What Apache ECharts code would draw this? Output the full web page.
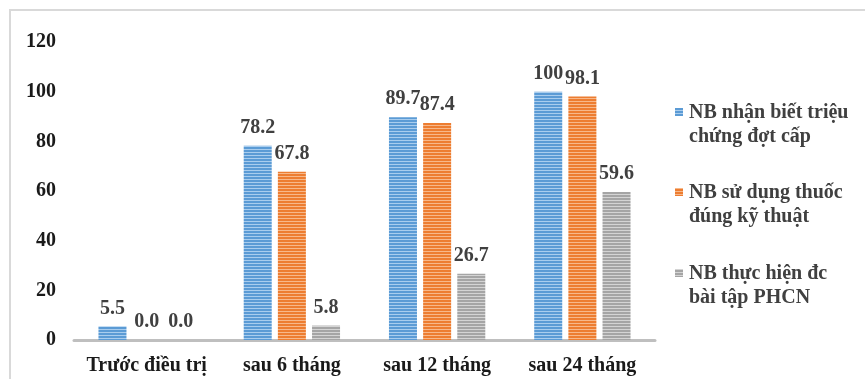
<!DOCTYPE html>
<html>
<head>
<meta charset="utf-8">
<script src="https://cdn.jsdelivr.net/npm/echarts@6/dist/echarts.min.js"></script>
<style>
  html, body { margin: 0; padding: 0; background: #fff; }
  #chart { width: 865px; height: 379px; }
</style>
</head>
<body>
<div id="chart"></div>
<script>
// Time points of the follow-up
const categories = ['Trước điều trị', 'sau 6 tháng', 'sau 12 tháng', 'sau 24 tháng'];

// Percentages per indicator
const recognizeSymptoms = [5.5, 78.2, 89.7, 100];
const correctInhaler = [0.0, 67.8, 87.4, 98.1];
const rehabExercise = [0.0, 5.8, 26.7, 59.6];

const seriesNames = [
  'NB nhận biết triệu\nchứng đợt cấp',
  'NB sử dụng thuốc\nđúng kỹ thuật',
  'NB thực hiện đc\nbài tập PHCN'
];

const yTicks = { min: 0, max: 120, interval: 20 };

// Horizontal-striped fill for the bars
function stripes(base, light) {
  const c = document.createElement('canvas');
  c.width = 4; c.height = 3;
  const g = c.getContext('2d');
  g.fillStyle = base; g.fillRect(0, 0, 4, 3);
  g.fillStyle = light; g.fillRect(0, 2, 4, 1);
  return { image: c, repeat: 'repeat' };
}

const fills = [
  stripes('#5b9bd5', '#a9cdee'),
  stripes('#ed7d31', '#f7b88a'),
  stripes('#a5a5a5', '#d4d4d4')
];

const serif = '"Liberation Serif", "Times New Roman", serif';
const FS = 20;

function fmt(v) { return v === 100 ? '100' : v.toFixed(1); }

// Legend: square swatch aligned with the first line of each two-line name
const legendTop = [112, 192, 273];
const legendGraphics = [];
seriesNames.forEach((n, i) => {
  legendGraphics.push({
    type: 'rect',
    shape: { x: 675, y: legendTop[i] - 4, width: 8, height: 8 },
    style: { fill: fills[i] },
    silent: true
  });
  legendGraphics.push({
    type: 'text',
    x: 689,
    y: legendTop[i] - 11,
    style: {
      text: n,
      font: 'bold ' + FS + 'px ' + serif,
      fill: '#404040',
      lineHeight: 24,
      verticalAlign: 'top'
    },
    silent: true
  });
});

const chart = echarts.init(document.getElementById('chart'), null, { renderer: 'canvas' });

const dataSets = [recognizeSymptoms, correctInhaler, rehabExercise];

chart.setOption({
  animation: false,
  backgroundColor: '#fff',
  graphic: [{
    type: 'rect',
    shape: { x: 10, y: 10, width: 900, height: 420 },
    style: { fill: 'none', stroke: '#d9d9d9', lineWidth: 2 },
    silent: true
  }].concat(legendGraphics),
  grid: { left: 74, right: 210, top: 42, bottom: 39 },
  legend: { show: false, data: seriesNames },
  xAxis: {
    type: 'category',
    data: categories,
    axisLine: { lineStyle: { color: '#bfbfbf', width: 3 } },
    axisTick: { show: false },
    axisLabel: {
      interval: 0,
      fontFamily: serif, fontWeight: 'bold', fontSize: FS, color: '#1a1a1a', margin: 16
    }
  },
  yAxis: {
    type: 'value',
    min: yTicks.min, max: yTicks.max, interval: yTicks.interval,
    axisLine: { show: false },
    axisTick: { show: false },
    splitLine: { show: false },
    axisLabel: {
      fontFamily: serif, fontWeight: 'bold', fontSize: FS, color: '#1a1a1a', margin: 18
    }
  },
  series: dataSets.map((d, i) => ({
    name: seriesNames[i],
    type: 'bar',
    data: d,
    barWidth: 28,
    barGap: '22%',
    itemStyle: { color: fills[i] },
    label: {
      show: true,
      position: 'top',
      distance: 8,
      formatter: p => fmt(p.value),
      fontFamily: serif,
      fontWeight: 'bold',
      fontSize: FS,
      color: '#404040'
    }
  }))
});
</script>
</body>
</html>
